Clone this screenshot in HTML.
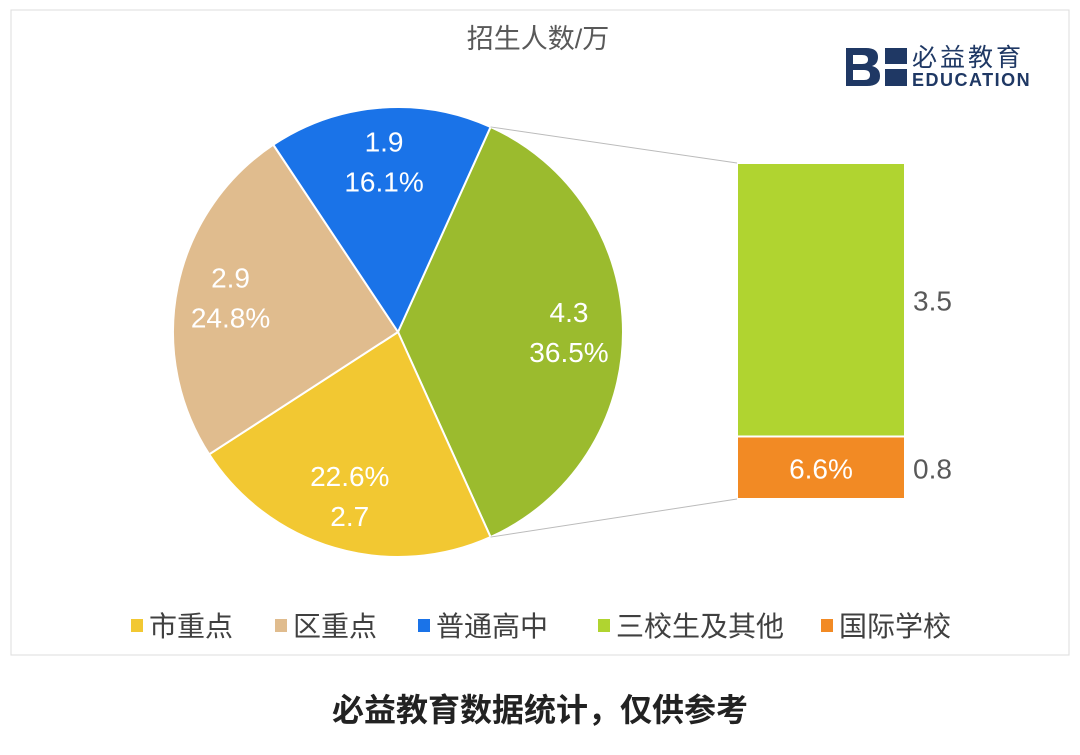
<!DOCTYPE html>
<html><head><meta charset="utf-8"><style>
body{margin:0;background:#fff;width:1080px;height:755px;overflow:hidden;font-family:"Liberation Sans","Noto Sans CJK SC",sans-serif}
</style></head><body>
<svg width="1080" height="755" style="position:absolute;left:0;top:0">
<rect x="11" y="10" width="1058" height="645" fill="none" stroke="#ddd" stroke-width="1"/>
<text x="538" y="48" text-anchor="middle" font-size="27" fill="#595959">招生人数/万</text>
<g>
<path d="M846 48 h20 q12 0 12 9 q0 7 -6 9 q8 2 8 10 q0 10 -13 10 h-21 z M853 55 v9 h9 q6 0 6-4.5 q0-4.5-6-4.5 z M853 70 v10 h11 q6 0 6-5 q0-5-6-5 z" fill="#1f3864"/>
<rect x="885" y="48" width="22" height="16" fill="#1f3864"/><rect x="885" y="69" width="22" height="17" fill="#1f3864"/>
<text x="912" y="66" font-size="25" fill="#1f3864" letter-spacing="3">必益教育</text>
<text x="912" y="86" font-size="18" fill="#1f3864" font-weight="bold" letter-spacing="1.5">EDUCATION</text>
</g>
<g id="pie"></g>
<g id="bar"></g>
<g id="legend"></g>
<text x="540" y="721" text-anchor="middle" font-size="32" font-weight="bold" fill="#222">必益教育数据统计，仅供参考</text>
</svg>
<script>
const sliceNames=["三校生及其他","市重点","区重点","普通高中"];
const sliceValues=[4.3,2.7,2.9,1.9];
const slicePcts=[36.5,22.6,24.8,16.1];
const barNames=["三校生","国际学校"];
const barValues=[3.5,0.8];
const barPct=["","6.6%"];
const legendNames=["市重点","区重点","普通高中","三校生及其他","国际学校"];
const NS="http://www.w3.org/2000/svg";
function mk(t,a,p){const e=document.createElementNS(NS,t);for(const k in a)e.setAttribute(k,a[k]);p.appendChild(e);return e;}
const sliceColors=["#9bbb2e","#f2c832","#e0bc8e","#1a73e8"];
const cx=398,cy=332,R=225,start=24.3;
const pie=document.getElementById('pie');
const tot=slicePcts.reduce((a,b)=>a+b,0);
function pt(deg,r){const a=deg*Math.PI/180;return [cx+r*Math.sin(a),cy-r*Math.cos(a)];}
let ang=start;let p0,p1;
slicePcts.forEach((v,i)=>{
 const sw=v/tot*360,a0=ang,a1=ang+sw;
 const s=pt(a0,R),e=pt(a1,R);
 if(i==0){p0=s;p1=e;}
 const path=mk('path',{d:`M${cx},${cy} L${s[0]},${s[1]} A${R},${R} 0 ${sw>180?1:0} 1 ${e[0]},${e[1]} Z`,fill:sliceColors[i],stroke:'#fff','stroke-width':2},pie);
 
 
 const m=pt((a0+a1)/2,R*0.76);
 const lines=i==1?[v.toFixed(1)+'%',sliceValues[i].toFixed(1)]:[sliceValues[i].toFixed(1),v.toFixed(1)+'%'];
 lines.forEach((s2,j)=>{const t=mk('text',{x:m[0],y:m[1]+(j==0?-10:30),'text-anchor':'middle','font-size':28,fill:'#fff'},pie);t.textContent=s2;
 
 });
 ang=a1;
});
const bar=document.getElementById('bar');
const bx=737,bw=168,btop=163,bbot=499;
const bt=barValues.reduce((a,b)=>a+b,0);
const bcol=["#b0d430","#f28a24"];
let y=btop;
barValues.forEach((v,i)=>{
 const h=v/bt*(bbot-btop);
 const r=mk('rect',{x:bx,y:y,width:bw,height:h,fill:bcol[i],stroke:'#fff','stroke-width':2},bar);
 
 
 const t=mk('text',{x:bx+bw+8,y:y+h/2+11,'font-size':28,fill:'#595959'},bar);t.textContent=v.toFixed(1);
 
 
 if(barPct[i]){const t2=mk('text',{x:bx+bw/2,y:y+h/2+11,'text-anchor':'middle','font-size':28,fill:'#fff'},bar);t2.textContent=barPct[i];
 
 }
 y+=h;
});
[[p0,btop],[p1,bbot]].forEach(([p,yy])=>{const l=mk('line',{x1:p[0],y1:p[1],x2:bx,y2:yy,stroke:'#bbb','stroke-width':1},bar);
 
 });
const lg=document.getElementById('legend');
const lcol=["#f2c832","#e0bc8e","#1a73e8","#b0d430","#f28a24"];
const lx=[131,275,418,598,821];
legendNames.forEach((n,i)=>{
 const r=mk('rect',{x:lx[i],y:619,width:12,height:13,fill:lcol[i]},lg);
 
 
 const t=mk('text',{x:lx[i]+18,y:636,'font-size':28,fill:'#404040'},lg);t.textContent=n;
 
 
});
</script>
</body></html>
